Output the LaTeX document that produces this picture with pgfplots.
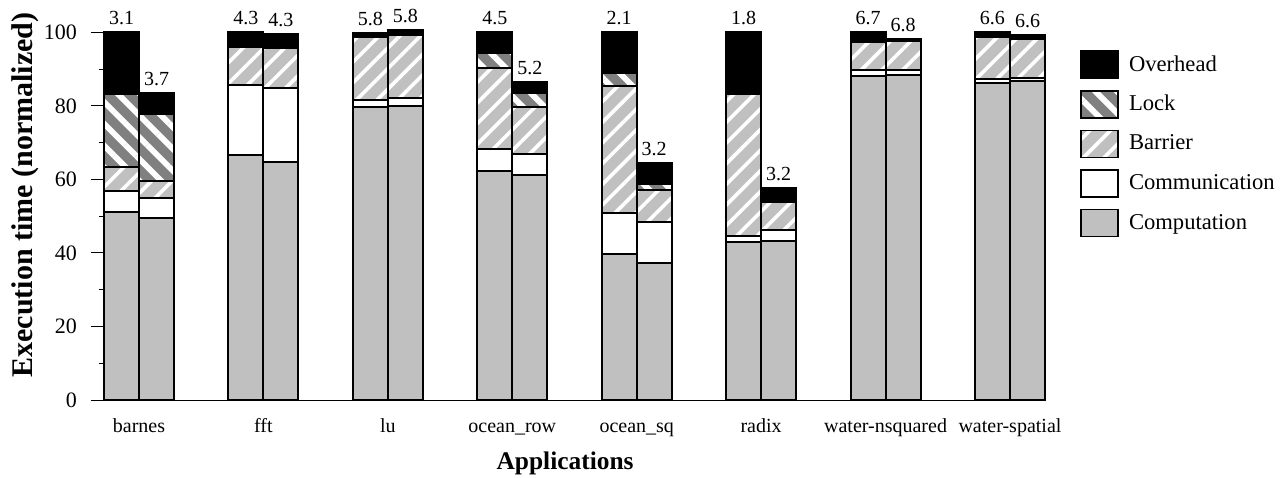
\documentclass[border=0pt]{standalone}
\usepackage{pgfplots}
\pgfplotsset{compat=1.18}
\usepackage{pgfplotstable}
\usetikzlibrary{patterns.meta}
\usepackage{fontspec}
\setmainfont{Liberation Serif}
\definecolor{compgray}{RGB}{192,192,192}
\definecolor{lockgray}{RGB}{128,128,128}

\pgfplotstableread{
x comp comm barrier lock ovh total label
-0.1408 51.2 5.6 6.7 19.6 16.9 100.0 3.1
0.1408 49.6 5.4 4.6 18.1 5.9 83.6 3.7
0.8592 66.5 19.3 10.3 0 3.9 100.0 4.3
1.1408 64.8 20.0 10.8 0 3.9 99.5 4.3
1.8592 79.8 1.8 17.1 0 1.1 99.8 5.8
2.1408 80.0 2.0 17.2 0 1.5 100.7 5.8
2.8592 62.3 6.0 22.1 4.1 5.5 100.0 4.5
3.1408 61.2 5.7 12.9 3.6 3.0 86.4 5.2
3.8592 39.6 11.3 34.5 3.6 11.0 100.0 2.1
4.1408 37.2 11.3 8.6 1.6 5.8 64.5 3.2
4.8592 42.9 1.7 38.5 0.5 16.4 100.0 1.8
5.1408 43.2 2.9 7.8 0.1 3.6 57.6 3.2
5.8592 88.2 1.6 7.6 0.5 2.1 100.0 6.7
6.1408 88.3 1.5 7.8 0.2 0.5 98.3 6.8
6.8592 86.3 0.9 11.6 0.2 1.0 100.0 6.6
7.1408 86.7 0.9 10.7 0 1.0 99.3 6.6
}\data

\begin{document}
\begin{tikzpicture}
\useasboundingbox (0,0) rectangle (644pt,238.5pt);
\begin{axis}[
  at={(52pt,38.5pt)}, anchor=south west,
  scale only axis, width=470.5pt, height=183.85pt,
  ybar stacked, bar width=0.2815,
  xmin=-0.2815, xmax=7.2815, ymin=0, ymax=100,
  clip=false,
  axis lines*=left,
  axis line style={line width=0.5pt},
  xtick={0,...,7},
  xticklabels={barnes,fft,lu,ocean\_row,ocean\_sq,radix,water-nsquared,water-spatial},
  xtick style={draw=none},
  x tick label style={font=\fontsize{10}{12}\selectfont, anchor=base, yshift=-9.5pt},
  ytick={0,20,...,100},
  minor y tick num=1,
  tick align=outside,
  major tick length=6.5pt, minor tick length=2.5pt,
  y tick style={line width=0.5pt, black},
  y tick label style={font=\fontsize{11}{13}\selectfont, xshift=-3.5pt},
  /pgf/number format/assume math mode=true,
  xlabel={\textbf{Applications}},
  xlabel style={font=\fontsize{12.7}{15}\selectfont, at={(axis description cs:0.49,0)}, anchor=base, yshift=-34.5pt},
  ylabel={\textbf{Execution time (normalized)}},
  ylabel style={font=\fontsize{15}{18}\selectfont, at={(axis description cs:-0.084,0.5575)}, anchor=center},
  every axis plot/.append style={draw=black, line width=1pt},
  reverse legend,
  legend image code/.code={\draw[#1, line width=0.8pt] (0pt,-6.75pt) rectangle (18.5pt,6.75pt);},
  legend style={draw=none, fill=none, at={(axis description cs:1.0372,0.9519)}, anchor=north west,
    inner sep=0pt, row sep=5.5pt, column sep=5pt,
    font=\fontsize{11.3}{13}\selectfont, nodes={inner sep=0pt}},
  legend cell align=left,
]
\addplot[fill=compgray] table[x=x, y=comp] \data;
\addlegendentry{Computation}
\addplot[fill=white] table[x=x, y=comm] \data;
\addlegendentry{Communication}
\addplot[fill=compgray, postaction={pattern={Lines[angle=45,distance=7.3pt,line width=1.8pt]}, pattern color=white}] table[x=x, y=barrier] \data;
\addlegendentry{Barrier}
\addplot[fill=lockgray, postaction={pattern={Lines[angle=-45,distance=7.7pt,line width=2.9pt]}, pattern color=white}] table[x=x, y=lock] \data;
\addlegendentry{Lock}
\addplot[fill=black] table[x=x, y=ovh] \data;
\addlegendentry{Overhead}
\end{axis}
\begin{axis}[
  at={(52pt,38.5pt)}, anchor=south west,
  scale only axis, width=470.5pt, height=183.85pt,
  xmin=-0.2815, xmax=7.2815, ymin=0, ymax=100,
  clip=false, hide axis,
]
\addplot[only marks, mark=none, point meta=explicit symbolic, nodes near coords,
  every node near coord/.append style={font=\fontsize{10}{12}\selectfont, inner sep=0pt, anchor=south, yshift=3.4pt, text=black}]
  table[x=x, y=total, meta=label] \data;
\end{axis}
\end{tikzpicture}
\end{document}
